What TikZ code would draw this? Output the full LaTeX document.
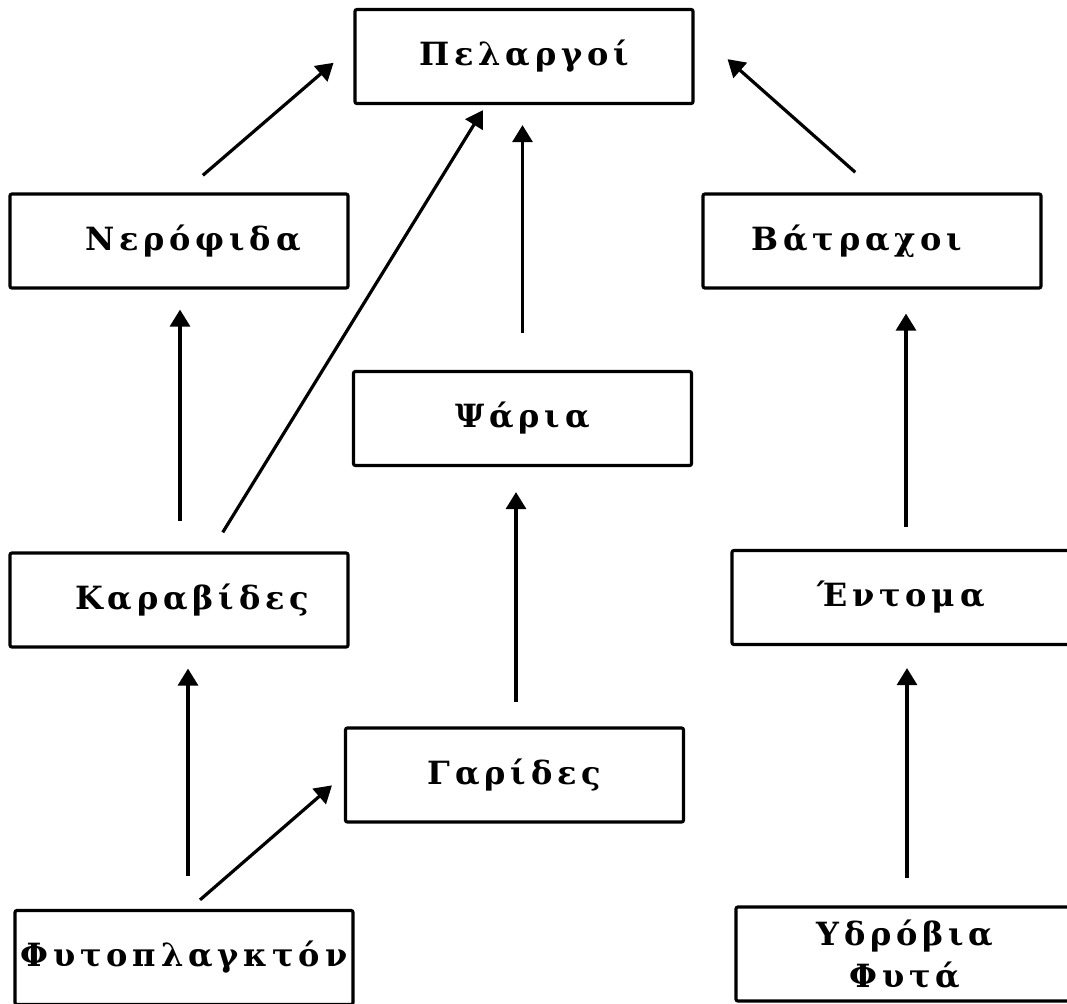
\documentclass[tikz,border=0pt]{standalone}
\usepackage{fontspec}
\newfontfamily\grfont[LetterSpace=15]{DejaVu Serif}
\usetikzlibrary{arrows.meta}

\begin{document}
\begin{tikzpicture}[x=0.5pt,y=-0.5pt]
        \tikzstyle{box}=[draw=black,line width=1.6pt,rounded corners=1pt,inner sep=0pt,
            minimum width=169pt,minimum height=47pt,align=center,
            font=\grfont\bfseries\fontsize{16}{21}\selectfont]
        \tikzstyle{arr}=[-{Triangle[length=8.5pt,width=10pt]},line width=1.6pt]
        \useasboundingbox (0,0) rectangle (1067,1003);

        \node[box] (pel) at (524,56.5) {Πελαργοί};
        \node[box] (ner) at (179,241) {\hspace*{14pt}Νερόφιδα};
        \node[box] (bat) at (872,241) {Βάτραχοι\hspace*{15pt}};
        \node[box] (psa) at (522.5,418.5) {Ψάρια};
        \node[box] (kar) at (179,600) {\hspace*{13pt}Καραβίδες};
        \node[box] (ent) at (901,597.5) {Έντομα};
        \node[box] (gar) at (514.5,775) {Γαρίδες};
        \node[box] (fyt) at (184,957.5) {Φυτοπλαγκτόν};
        \node[box] (ydr) at (905,954) {Υδρόβια\\Φυτά};

        \draw[arr,shorten <=13.1pt,shorten >=13.1pt] ([xshift=2pt]ner.north) -- ([yshift=5.4pt]pel.west);
        \draw[arr,shorten <=11.2pt,shorten >=3pt] ([xshift=16pt]kar.north) -- ([xshift=-19pt]pel.south);
        \draw[arr,shorten <=18.5pt,shorten >=10pt] (psa.north) -- (psa.north |- pel.south);
        \draw[arr,shorten <=15.2pt,shorten >=22pt] ([xshift=3pt]bat.north) -- ([yshift=13.25pt]pel.east);
        \draw[arr,shorten <=15pt,shorten >=10pt] ([xshift=0.5pt]kar.north) -- ([xshift=0.5pt]kar.north |- ner.south);
        \draw[arr,shorten <=11pt,shorten >=12pt] ([xshift=2.5pt]ent.north) -- ([xshift=2.5pt]ent.north |- bat.south);
        \draw[arr,shorten <=12.25pt,shorten >=12.5pt] ([xshift=0.75pt]gar.north) -- ([xshift=0.75pt]gar.north |- psa.south);
        \draw[arr,shorten <=16.5pt,shorten >=10pt] ([xshift=2pt]fyt.north) -- ([xshift=2pt]fyt.north |- kar.south);
        \draw[arr,shorten <=6.9pt,shorten >=7.9pt] ([xshift=2.8pt]fyt.north) -- (gar.west);
        \draw[arr,shorten <=13.5pt,shorten >=11pt] ([xshift=1pt]ydr.north) -- ([xshift=1pt]ydr.north |- ent.south);
    \end{tikzpicture}
\end{document}
